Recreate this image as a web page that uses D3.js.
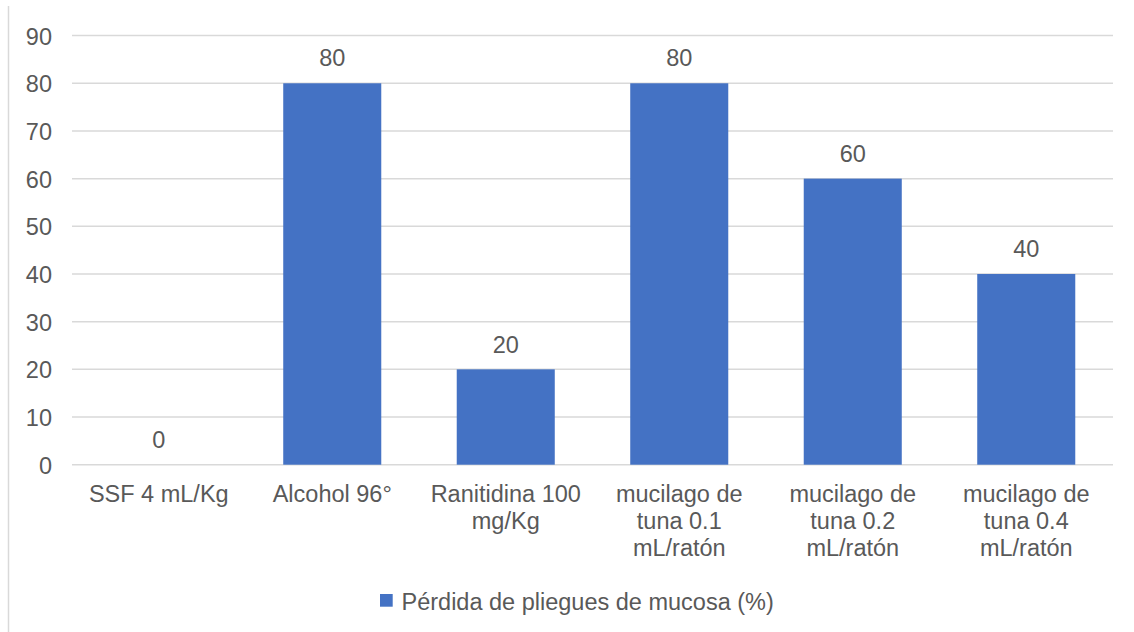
<!DOCTYPE html>
<html>
<head>
<meta charset="utf-8">
<script src="https://cdn.jsdelivr.net/npm/d3@7"></script>
<style>
  body { margin: 0; background: #fff; }
  svg text { font-family: "Liberation Sans", Arial, sans-serif; fill: #595959; }
</style>
</head>
<body>
<svg id="chart" width="1134" height="632"></svg>
<script>
const categories = [
  ["SSF 4 mL/Kg"],
  ["Alcohol 96°"],
  ["Ranitidina 100", "mg/Kg"],
  ["mucilago de", "tuna 0.1", "mL/ratón"],
  ["mucilago de", "tuna 0.2", "mL/ratón"],
  ["mucilago de", "tuna 0.4", "mL/ratón"]
];
const values = [0, 80, 20, 80, 60, 40];
const yTicks = [0, 10, 20, 30, 40, 50, 60, 70, 80, 90];
const seriesName = "Pérdida de pliegues de mucosa (%)";

const svg = d3.select("#chart");
const W = 1134, H = 632;
const margin = { left: 72, right: 21, top: 35.6, bottom: 167.3 };
const FS = 23.5;

const x = d3.scaleBand()
  .domain(d3.range(categories.length))
  .range([margin.left, W - margin.right])
  .paddingInner(0.435)
  .paddingOuter(0.2175);

const y = d3.scaleLinear()
  .domain([0, 90])
  .range([H - margin.bottom, margin.top]);

// chart frame edge
svg.append("line")
  .attr("x1", 8.5).attr("x2", 8.5)
  .attr("y1", 6).attr("y2", H)
  .attr("stroke", "#d9d9d9").attr("stroke-width", 1.5);

// gridlines
svg.append("g")
  .selectAll("line")
  .data(yTicks)
  .join("line")
  .attr("x1", margin.left).attr("x2", W - margin.right)
  .attr("y1", d => y(d)).attr("y2", d => y(d))
  .attr("stroke", "#d9d9d9").attr("stroke-width", 1.5);

// y axis labels
const yAxis = d3.axisLeft(y).tickValues(yTicks).tickSize(0).tickPadding(0);
svg.append("g")
  .attr("transform", `translate(${margin.left - 20},0)`)
  .call(yAxis)
  .call(g => g.select(".domain").remove())
  .call(g => g.selectAll("text")
    .attr("font-size", FS)
    .attr("dy", "0.36em")
    .attr("font-family", "Liberation Sans, Arial, sans-serif")
    .attr("fill", "#595959"));

// bars
svg.append("g")
  .selectAll("rect")
  .data(values)
  .join("rect")
  .attr("x", (d, i) => x(i))
  .attr("width", x.bandwidth())
  .attr("y", d => y(d))
  .attr("height", d => y(0) - y(d))
  .attr("fill", "#4472c4");

// value labels
svg.append("g")
  .selectAll("text")
  .data(values)
  .join("text")
  .attr("x", (d, i) => x(i) + x.bandwidth() / 2)
  .attr("y", d => y(d) - 16.8)
  .attr("text-anchor", "middle")
  .attr("font-size", FS)
  .text(d => d);

// category labels
const cat = svg.append("g")
  .selectAll("text")
  .data(categories)
  .join("text")
  .attr("x", (d, i) => x(i) + x.bandwidth() / 2)
  .attr("y", y(0) + 37.5)
  .attr("text-anchor", "middle")
  .attr("font-size", FS);
cat.selectAll("tspan")
  .data(d => d)
  .join("tspan")
  .attr("x", function() { return d3.select(this.parentNode).attr("x"); })
  .attr("dy", (d, i) => i === 0 ? 0 : 26.7)
  .text(d => d);

// legend
const legend = svg.append("g").attr("transform", "translate(380,594)");
legend.append("rect")
  .attr("width", 12.7).attr("height", 12.7)
  .attr("fill", "#4472c4");
legend.append("text")
  .attr("x", 21.5).attr("y", 16)
  .attr("font-size", FS)
  .text(seriesName);
</script>
</body>
</html>
